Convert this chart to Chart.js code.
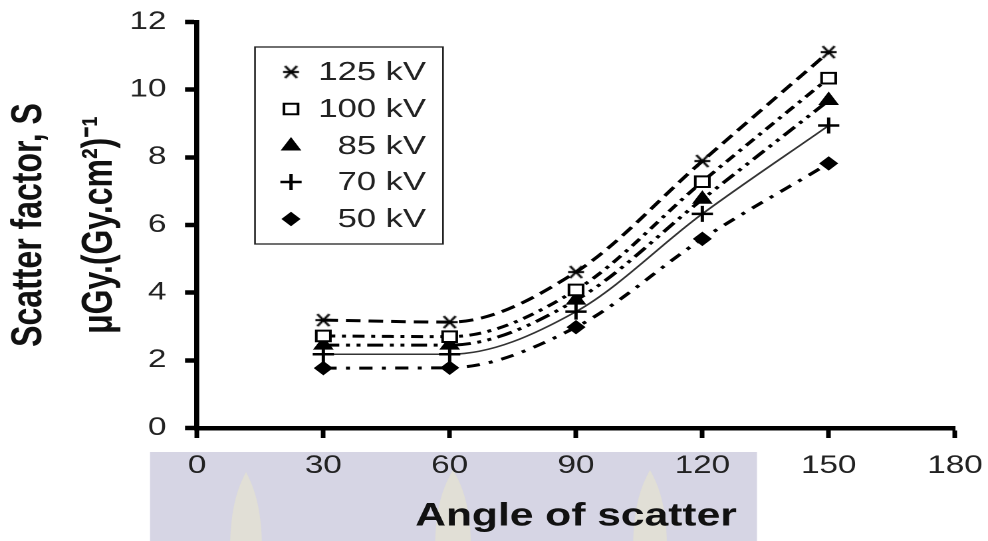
<!DOCTYPE html>
<html><head><meta charset="utf-8">
<script src="https://cdn.jsdelivr.net/npm/chart.js"></script>
<style>
html,body{margin:0;padding:0;background:#fff;overflow:hidden;}
#c{display:block;width:988px !important;height:541px !important;}
</style></head>
<body>
<canvas id="c" width="743" height="541"></canvas>
<script>
// ---- data ----
const angles = [30, 60, 90, 120, 150];
const kv125 = [3.19, 3.13, 4.61, 7.89, 11.11];
const kv100 = [2.72, 2.70, 4.08, 7.28, 10.34];
const kv85  = [2.45, 2.45, 3.78, 6.76, 9.68];
const kv70  = [2.18, 2.18, 3.44, 6.33, 8.94];
const kv50  = [1.77, 1.78, 2.98, 5.59, 7.82];
const seriesLabels = ['125 kV', '100 kV', '85 kV', '70 kV', '50 kV'];
const legendTexts = ['125 kV', '100 kV', '  85 kV', '  70 kV', '  50 kV'];
const xTicks = [0, 30, 60, 90, 120, 150, 180];
const yTicks = [0, 2, 4, 6, 8, 10, 12];
const xTitle = 'Angle of scatter';
const yTitle = ['Scatter factor, S', 'μGy.(Gy.cm²)⁻¹'];

// ---- layout helpers ----
const W = 743, H = 541;
const SX = 988 / W;            // horizontal stretch of the picture
const rx = v => v / SX;        // real x -> logical x
const FONT = '"Liberation Sans", Arial, sans-serif';

// asterisk marker (X with a horizontal bar)
const ast = document.createElement('canvas');
ast.width = 16; ast.height = 16;
(function(){
  const c = ast.getContext('2d');
  c.strokeStyle = '#000'; c.lineWidth = 2; c.lineCap = 'butt';
  c.beginPath();
  c.moveTo(2, 8); c.lineTo(14, 8);
  c.moveTo(3.5, 2); c.lineTo(12.5, 14);
  c.moveTo(12.5, 2); c.lineTo(3.5, 14);
  c.stroke();
})();

const toXY = arr => angles.map((a, i) => ({x: a, y: arr[i]}));

const common = {
  showLine: true, fill: false, borderColor: '#000',
  pointBorderColor: '#000', cubicInterpolationMode: 'monotone'
};

const datasets = [
  Object.assign({}, common, {label: seriesLabels[0], data: toXY(kv125), borderWidth: 3, borderDash: [11, 6],
    pointStyle: ast, pointRadius: 8}),
  Object.assign({}, common, {label: seriesLabels[1], data: toXY(kv100), borderWidth: 3, borderDash: [9, 5, 3, 5],
    pointStyle: 'rect', pointRadius: 7.5, pointBackgroundColor: '#fff', pointBorderWidth: 2}),
  Object.assign({}, common, {label: seriesLabels[2], data: toXY(kv85), borderWidth: 3, borderDash: [12, 5, 3, 5, 3, 5],
    pointStyle: 'triangle', pointRadius: 8, pointBackgroundColor: '#000', pointBorderWidth: 1}),
  Object.assign({}, common, {label: seriesLabels[3], data: toXY(kv70), borderWidth: 1.6, borderColor: '#333',
    pointStyle: 'cross', pointRadius: 8, pointBorderWidth: 2.5}),
  Object.assign({}, common, {label: seriesLabels[4], data: toXY(kv50), borderWidth: 3, borderDash: [10, 7, 3, 7],
    pointStyle: 'rectRot', pointRadius: 6.5, pointBackgroundColor: '#000', pointBorderWidth: 1})
];

// background band artefact under the x axis labels
const bandPlugin = {
  id: 'band',
  beforeDraw(chart) {
    const ctx = chart.ctx;
    ctx.save();
    ctx.fillStyle = '#d6d5e4';
    ctx.fillRect(rx(150), 452, rx(757) - rx(150), H - 452);
    ctx.fillStyle = '#e1dfd6';
    [[246, 472, 16], [453, 470, 18], [650, 470, 17]].forEach(([cx, top, hw]) => {
      const x = rx(cx), w = rx(hw);
      ctx.beginPath();
      ctx.moveTo(x, top);
      ctx.bezierCurveTo(x + w * 0.6, top + 18, x + w, top + 40, x + w, H + 10);
      ctx.lineTo(x - w, H + 10);
      ctx.bezierCurveTo(x - w, top + 40, x - w * 0.6, top + 18, x, top);
      ctx.fill();
    });
    ctx.restore();
  }
};

// boxed legend inside the plot
const legendPlugin = {
  id: 'boxLegend',
  afterDraw(chart) {
    const ctx = chart.ctx;
    ctx.save();
    ctx.strokeStyle = '#222';
    ctx.lineWidth = 1.3;
    const x0 = rx(255), x1 = rx(443), y0 = 47, y1 = 244;
    ctx.strokeRect(x0, y0, x1 - x0, y1 - y0);
    const rows = [72, 109, 146, 182, 219];
    const mx = rx(291), tx = rx(426);
    chart.data.datasets.forEach((ds, i) => {
      ctx.fillStyle = ds.pointBackgroundColor || '#000';
      ctx.strokeStyle = '#000';
      ctx.lineWidth = ds.pointBorderWidth || 2;
      Chart.helpers.drawPoint(ctx, {pointStyle: ds.pointStyle, radius: ds.pointRadius,
        borderWidth: ds.pointBorderWidth || 2, rotation: 0}, mx, rows[i]);
      ctx.fillStyle = '#222';
      ctx.font = '26px ' + FONT;
      ctx.textAlign = 'right';
      ctx.textBaseline = 'middle';
      ctx.fillText(legendTexts[i], tx, rows[i] + 1);
    });
    ctx.restore();
  }
};

new Chart(document.getElementById('c'), {
  type: 'scatter',
  data: {datasets},
  options: {
    responsive: false,
    devicePixelRatio: 2,
    animation: false,
    events: [],
    layout: {padding: {top: 22, right: W - rx(955), left: 0, bottom: 0}},
    plugins: {legend: {display: false}, tooltip: {enabled: false}},
    scales: {
      x: {
        type: 'linear', min: 0, max: 180,
        afterBuildTicks: s => { s.ticks = xTicks.map(v => ({value: v})); },
        afterFit: s => { s.height = H - 428; s.paddingLeft = 0; s.paddingRight = 0; },
        grid: {drawOnChartArea: false, drawTicks: true, tickLength: 10, tickWidth: 3.5, tickColor: '#000'},
        border: {display: true, width: 4.5, color: '#000'},
        ticks: {font: {family: FONT, size: 25}, color: '#222', padding: 13, maxRotation: 0, autoSkip: false},
        title: {display: true, text: xTitle, color: '#111',
          font: {family: FONT, size: 32, weight: 'bold'}, padding: {top: 0, bottom: 5}}
      },
      y: {
        min: 0, max: 12,
        afterBuildTicks: s => { s.ticks = yTicks.map(v => ({value: v})); },
        afterFit: s => { s.width = rx(197); s.paddingTop = 0; s.paddingBottom = 0; },
        grid: {drawOnChartArea: false, drawTicks: true, tickLength: 9, tickWidth: 4.5, tickColor: '#000'},
        border: {display: true, width: 3.8, color: '#000'},
        ticks: {font: {family: FONT, size: 25}, color: '#222', padding: 14},
        title: {display: true, text: yTitle, color: '#111',
          font: {family: FONT, size: 32, weight: 'bold', lineHeight: 1.65}, padding: {top: -4, bottom: 0}}
      }
    }
  },
  plugins: [bandPlugin, legendPlugin]
});
</script>
</body></html>
